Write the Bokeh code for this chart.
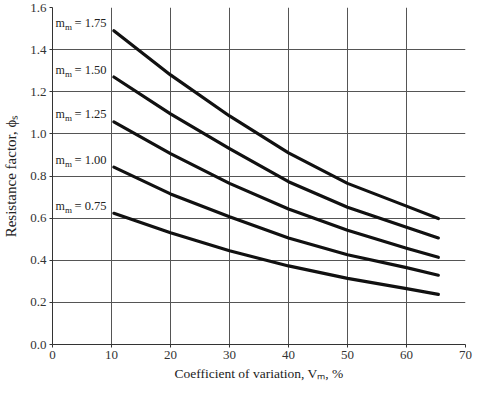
from bokeh.plotting import figure
from bokeh.models import ColumnDataSource, FixedTicker, Range1d, NumeralTickFormatter
from bokeh.core.properties import value
from bokeh.embed import file_html
from bokeh.resources import INLINE

# Coefficient of variation V_m (%)
cov = [10.4, 20, 30, 40, 50, 60, 65.4]
# Resistance factor for each mean ratio m_m
phi_175 = [1.49, 1.28, 1.085, 0.91, 0.765, 0.657, 0.598]
phi_150 = [1.27, 1.095, 0.93, 0.773, 0.652, 0.557, 0.506]
phi_125 = [1.057, 0.906, 0.765, 0.643, 0.542, 0.457, 0.414]
phi_100 = [0.842, 0.715, 0.606, 0.506, 0.426, 0.365, 0.329]
phi_075 = [0.623, 0.531, 0.445, 0.373, 0.314, 0.265, 0.238]
series_labels = ["1.75", "1.50", "1.25", "1.00", "0.75"]
x_ticks = [0, 10, 20, 30, 40, 50, 60, 70]
y_ticks = [0.0, 0.2, 0.4, 0.6, 0.8, 1.0, 1.2, 1.4, 1.6]

SERIF = "Liberation Serif"

p = figure(width=473, height=383, output_backend="svg", toolbar_location=None,
           x_range=Range1d(0, 70), y_range=Range1d(0, 1.6),
           min_border_left=44, min_border_right=8, min_border_top=7, min_border_bottom=10)
p.outline_line_color = None
p.background_fill_color = "white"
p.border_fill_color = "white"

for ax in (p.xaxis[0], p.yaxis[0]):
    ax.major_label_text_font = SERIF
    ax.major_label_text_font_size = "13px"
    ax.major_label_text_color = "#333333"
    ax.axis_label_text_font = SERIF
    ax.axis_label_text_font_style = "normal"
    ax.axis_label_text_color = "#222222"
    ax.axis_line_color = "#333333"
    ax.major_tick_line_color = "#333333"
    ax.major_tick_in = 0
    ax.major_tick_out = 3
    ax.minor_tick_line_color = None

p.xaxis.ticker = FixedTicker(ticks=x_ticks)
p.yaxis.ticker = FixedTicker(ticks=y_ticks)
p.yaxis.formatter = NumeralTickFormatter(format="0.0")
p.xaxis.axis_label = "Coefficient of variation, V\u2098, %"
p.yaxis.axis_label = "Resistance factor, \u03d5\u209b"
p.xaxis.axis_label_text_font_size = "13.5px"
p.yaxis.axis_label_text_font_size = "15px"
p.xaxis.axis_label_standoff = 4
p.yaxis.axis_label_standoff = 8
p.xaxis.major_label_standoff = 3
p.yaxis.major_label_standoff = 3

p.xgrid.grid_line_color = "#555555"
p.ygrid.grid_line_color = "#555555"
p.xgrid.grid_line_width = 1
p.ygrid.grid_line_width = 1

all_series = [phi_175, phi_150, phi_125, phi_100, phi_075]
for ys in all_series:
    p.line(cov, ys, line_color="#111111", line_width=3.2, line_cap="round", line_join="round")

# labels: "m_m = x.xx" placed left of each curve start
lab_src = ColumnDataSource(dict(
    x=[0] * len(series_labels),
    y=[s[0] + 0.035 for s in all_series],
    rest=["= " + s for s in series_labels],
))
p.text(x="x", y="y", text=value("m"), source=lab_src, x_offset=3, text_font=value(SERIF),
       text_font_size="12px", text_align="left", text_baseline="middle", text_color="#222222")
p.text(x="x", y="y", text=value("m"), source=lab_src, x_offset=12.5, y_offset=4, text_font=value(SERIF),
       text_font_size="9px", text_align="left", text_baseline="middle", text_color="#222222")
p.text(x="x", y="y", text="rest", source=lab_src, x_offset=22, text_font=value(SERIF),
       text_font_size="12.5px", text_align="left", text_baseline="middle", text_color="#222222")

open("out.html", "w").write(file_html(p, INLINE))
